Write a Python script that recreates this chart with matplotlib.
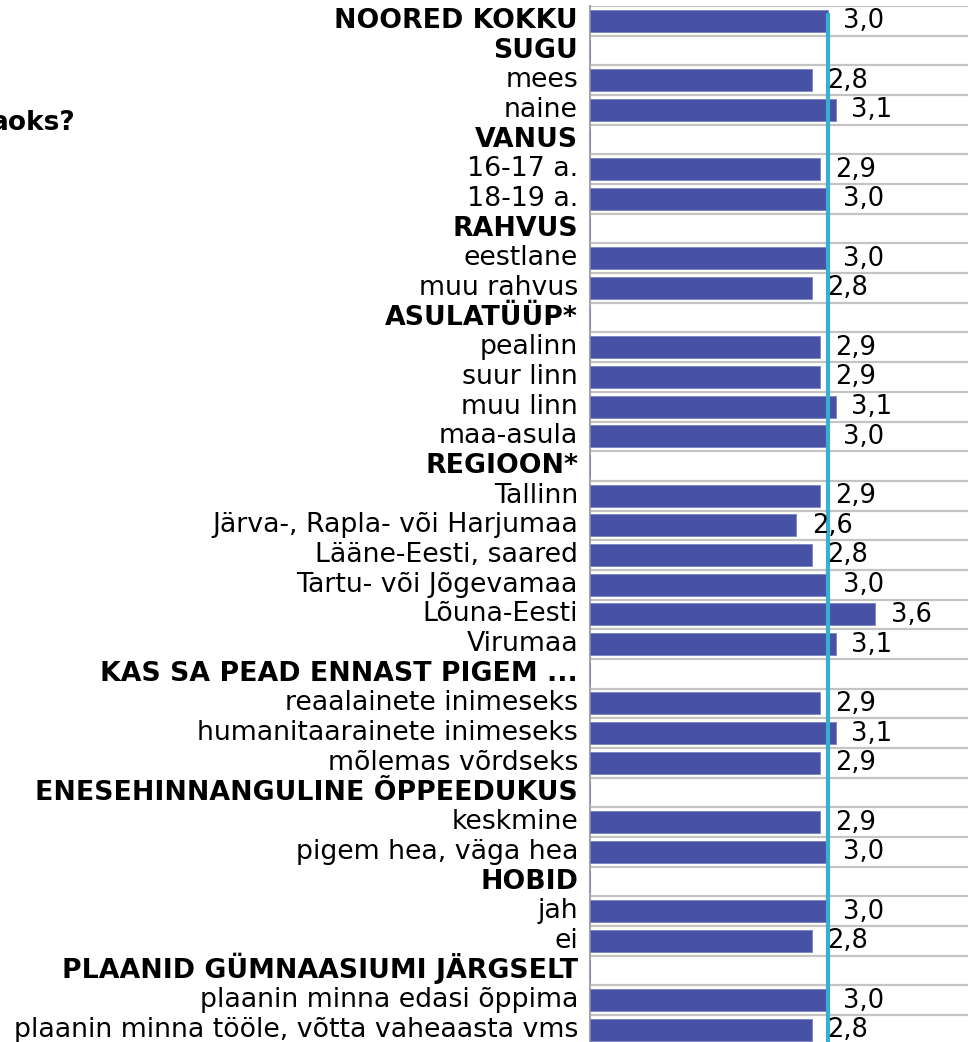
"""
Noorte hinnangud - tulpdiagramm (keskmine hinne)
"""
import numpy as np
import matplotlib
matplotlib.use("Agg")
import matplotlib.pyplot as plt
import matplotlib.transforms as mtransforms

plt.rcParams['font.family'] = ['DejaVu Sans']

# ======================== andmed ========================
categories = [
    "NOORED KOKKU", "SUGU", "mees", "naine",
    "VANUS", "16-17 a.", "18-19 a.",
    "RAHVUS", "eestlane", "muu rahvus",
    "ASULATÜÜP*", "pealinn", "suur linn", "muu linn", "maa-asula",
    "REGIOON*", "Tallinn", "Järva-, Rapla- või Harjumaa", "Lääne-Eesti, saared",
    "Tartu- või Jõgevamaa", "Lõuna-Eesti", "Virumaa",
    "KAS SA PEAD ENNAST PIGEM ...", "reaalainete inimeseks",
    "humanitaarainete inimeseks", "mõlemas võrdseks",
    "ENESEHINNANGULINE ÕPPEEDUKUS", "keskmine", "pigem hea, väga hea",
    "HOBID", "jah", "ei",
    "PLAANID GÜMNAASIUMI JÄRGSELT", "plaanin minna edasi õppima",
    "plaanin minna tööle, võtta vaheaasta vms",
]
bold_rows = {
    "NOORED KOKKU", "SUGU", "VANUS", "RAHVUS", "ASULATÜÜP*", "REGIOON*",
    "KAS SA PEAD ENNAST PIGEM ...", "ENESEHINNANGULINE ÕPPEEDUKUS",
    "HOBID", "PLAANID GÜMNAASIUMI JÄRGSELT",
}
values = [
    3.0, np.nan, 2.8, 3.1,
    np.nan, 2.9, 3.0,
    np.nan, 3.0, 2.8,
    np.nan, 2.9, 2.9, 3.1, 3.0,
    np.nan, 2.9, 2.6, 2.8, 3.0, 3.6, 3.1,
    np.nan, 2.9, 3.1, 2.9,
    np.nan, 2.9, 3.0,
    np.nan, 3.0, 2.8,
    np.nan, 3.0, 2.8,
]
average = 3.0
title_tail = "aoks?"   # pealkirja lõpp, mis jääb pildist välja

# ======================== joonis ========================
W, H = 968, 1042
X0 = 590          # telje algus pikslites
PX_PER_UNIT = 79.3
ROW_PX = 29.68

fig = plt.figure(figsize=(W / 100, H / 100), dpi=100)
ax = fig.add_axes([X0 / W, 0, 1 - X0 / W, 1 - 6 / H])

y = np.arange(len(categories))
vals = np.array(values, dtype=float)

ax.barh(y, np.nan_to_num(vals), height=0.74, color='#4752a5',
        edgecolor='#7a83c4', linewidth=0.6, zorder=3)

# horisontaalsed jooned ridade vahel
for b in np.arange(-0.5, len(categories), 1.0):
    ax.axhline(b, color='#c4c4c4', linewidth=1.6, zorder=1)

# keskmise joon
ax.plot([average, average], [-0.26, len(categories)], color='#38aed0',
        linewidth=3.0, solid_capstyle='butt', zorder=4)

# väärtuste sildid
for yi, v in zip(y, vals):
    if np.isnan(v):
        continue
    ax.annotate(f"{v:.1f}".replace('.', ','), xy=(v, yi), xytext=(11.2, -0.3),
                textcoords='offset points', ha='left', va='center',
                fontsize=18.5, color='black', zorder=5)

ax.set_xlim(0, (W - X0) / PX_PER_UNIT)
ax.set_ylim(-0.5 + (H - 6) / ROW_PX, -0.5)

# kategooriate sildid vasakul (tekstina, et neid saaks nihutada)
label_tr = ax.get_yaxis_transform() + mtransforms.ScaledTranslation(
    -12 / 100, -7 / 100, fig.dpi_scale_trans)
for yi, name in zip(y, categories):
    ax.text(0, yi, name, transform=label_tr, ha='right', va='baseline',
            fontsize=19.3, fontweight='bold' if name in bold_rows else 'normal',
            clip_on=False)

ax.set_yticks([])
ax.set_xticks([])

for s in ['top', 'right', 'bottom']:
    ax.spines[s].set_visible(False)
ax.spines['left'].set_color('#a6a6a6')
ax.spines['left'].set_linewidth(1.5)

fig.text(76 / W, 1 - 123 / H, title_tail, ha='right', va='center',
         fontsize=19, fontweight='bold')

fig.savefig("out.png", dpi=100)
